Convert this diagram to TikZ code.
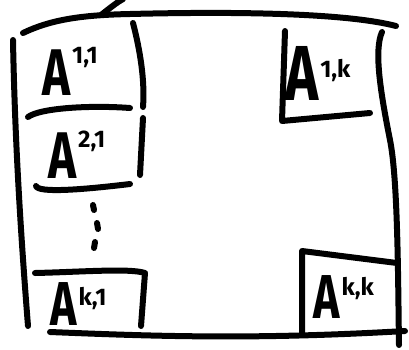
\documentclass[tikz,border=0pt]{standalone}
\usepackage{graphicx}
\usepackage{fontspec}
\setmainfont{Fira Sans}
\newcommand{\Alab}[3][0]{\scalebox{0.72}[1]{\fontsize{#2}{#2}\selectfont\bfseries A}\hspace{2pt}\raisebox{#1pt}{\fontsize{24}{24}\selectfont\bfseries #3}}
\begin{document}
\begin{tikzpicture}[x=1pt,y=-1pt,
  ink/.style={line width=6pt, line cap=round, line join=round},
  lab/.style={anchor=base west, inner sep=0pt}]
\useasboundingbox (0,0) rectangle (409,349);
% outer frame
\draw[ink] (23,33) .. controls (50,20) and (80,15) .. (130,14) .. controls (250,11) and (350,14) .. (396,26);
\draw[ink] (101,15) .. controls (110,8) and (116,3) .. (123,-1);
\draw[ink] (13,40) .. controls (15,150) and (22,250) .. (28,326);
\draw[ink] (50,332) .. controls (150,336) and (250,340) .. (405,331);
\draw[ink] (382,32) .. controls (374,50) and (380,90) .. (390,140) .. controls (398,180) and (398,280) .. (399,345);
% A11 box
\draw[ink] (133,23) .. controls (140,50) and (145,80) .. (143,107);
\draw[ink] (28,117) .. controls (40,108) and (90,105) .. (130,108);
% A21 box
\draw[ink] (143,118) -- (140,175);
\draw[ink] (36,186) .. controls (38,193) and (80,190) .. (130,184);
% dots
\draw[ink] (93,205) -- (94,210);
\draw[ink] (97,223) -- (98,229);
\draw[ink] (95,242) -- (94,248);
% Ak1 box
\draw[ink] (35,273) .. controls (80,272) and (130,268) .. (145,273) -- (141,326);
% A1k box
\draw[ink] (285,31) -- (282,121) -- (370,113);
% Akk box
\draw[ink] (302,333) -- (302,251) -- (397,263);
% labels
\node[lab] (a11) at (42,95) {\Alab[32]{66}{1,1}};
\node[lab] (a21) at (48,178) {\Alab[31]{66}{2,1}};
\node[lab] (ak1) at (50,325) {\Alab[20]{62}{k,1}};
\node[lab] (a1k) at (285,100) {\Alab[23]{78}{1,k}};
\node[lab] (akk) at (313,318) {\Alab[23]{62}{k,k}};
\end{tikzpicture}
\end{document}
